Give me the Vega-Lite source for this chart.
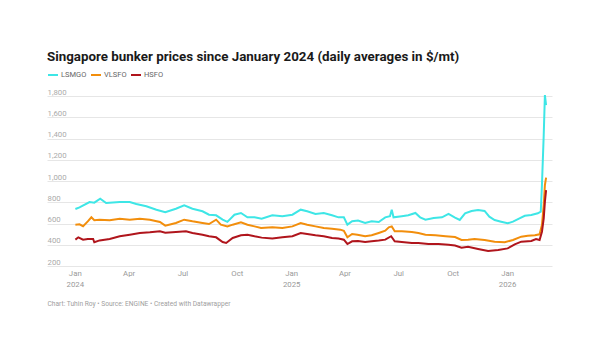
{
  "$schema": "https://vega.github.io/schema/vega-lite/v6.json",
  "width": 505,
  "height": 170,
  "autosize": {"type": "none"},
  "padding": {"left": 47, "top": 96, "right": 48, "bottom": 90},
  "background": "white",
  "config": {"font": "Roboto", "view": {"stroke": null}},
  "title": {
    "text": "Singapore bunker prices since January 2024 (daily averages in $/mt)",
    "anchor": "start",
    "frame": "group",
    "fontSize": 13.35,
    "fontWeight": "bold",
    "color": "#1a1a1a",
    "offset": 6
  },
  "data": {
    "values": [
      {"date": "2024-01-02", "fuel": "LSMGO", "price": 736},
      {"date": "2024-01-09", "fuel": "LSMGO", "price": 752},
      {"date": "2024-01-26", "fuel": "LSMGO", "price": 802},
      {"date": "2024-02-03", "fuel": "LSMGO", "price": 796},
      {"date": "2024-02-13", "fuel": "LSMGO", "price": 833},
      {"date": "2024-02-23", "fuel": "LSMGO", "price": 793},
      {"date": "2024-03-17", "fuel": "LSMGO", "price": 802},
      {"date": "2024-04-03", "fuel": "LSMGO", "price": 802},
      {"date": "2024-04-14", "fuel": "LSMGO", "price": 783},
      {"date": "2024-05-01", "fuel": "LSMGO", "price": 762},
      {"date": "2024-05-18", "fuel": "LSMGO", "price": 730},
      {"date": "2024-06-02", "fuel": "LSMGO", "price": 707},
      {"date": "2024-06-20", "fuel": "LSMGO", "price": 739},
      {"date": "2024-07-04", "fuel": "LSMGO", "price": 771},
      {"date": "2024-07-18", "fuel": "LSMGO", "price": 739},
      {"date": "2024-08-04", "fuel": "LSMGO", "price": 715},
      {"date": "2024-08-15", "fuel": "LSMGO", "price": 683},
      {"date": "2024-08-27", "fuel": "LSMGO", "price": 677},
      {"date": "2024-09-07", "fuel": "LSMGO", "price": 636},
      {"date": "2024-09-15", "fuel": "LSMGO", "price": 615},
      {"date": "2024-09-27", "fuel": "LSMGO", "price": 683},
      {"date": "2024-10-08", "fuel": "LSMGO", "price": 699},
      {"date": "2024-10-19", "fuel": "LSMGO", "price": 658},
      {"date": "2024-10-31", "fuel": "LSMGO", "price": 658},
      {"date": "2024-11-12", "fuel": "LSMGO", "price": 645},
      {"date": "2024-11-30", "fuel": "LSMGO", "price": 677},
      {"date": "2024-12-17", "fuel": "LSMGO", "price": 668},
      {"date": "2025-01-03", "fuel": "LSMGO", "price": 683},
      {"date": "2025-01-17", "fuel": "LSMGO", "price": 730},
      {"date": "2025-01-28", "fuel": "LSMGO", "price": 715},
      {"date": "2025-02-11", "fuel": "LSMGO", "price": 690},
      {"date": "2025-02-25", "fuel": "LSMGO", "price": 699},
      {"date": "2025-03-11", "fuel": "LSMGO", "price": 677},
      {"date": "2025-03-22", "fuel": "LSMGO", "price": 658},
      {"date": "2025-03-31", "fuel": "LSMGO", "price": 658},
      {"date": "2025-04-06", "fuel": "LSMGO", "price": 589},
      {"date": "2025-04-14", "fuel": "LSMGO", "price": 621},
      {"date": "2025-04-24", "fuel": "LSMGO", "price": 628},
      {"date": "2025-05-06", "fuel": "LSMGO", "price": 605},
      {"date": "2025-05-17", "fuel": "LSMGO", "price": 621},
      {"date": "2025-05-29", "fuel": "LSMGO", "price": 614},
      {"date": "2025-06-09", "fuel": "LSMGO", "price": 658},
      {"date": "2025-06-17", "fuel": "LSMGO", "price": 668},
      {"date": "2025-06-20", "fuel": "LSMGO", "price": 730},
      {"date": "2025-06-23", "fuel": "LSMGO", "price": 658},
      {"date": "2025-07-07", "fuel": "LSMGO", "price": 668},
      {"date": "2025-07-18", "fuel": "LSMGO", "price": 677},
      {"date": "2025-07-30", "fuel": "LSMGO", "price": 699},
      {"date": "2025-08-07", "fuel": "LSMGO", "price": 658},
      {"date": "2025-08-16", "fuel": "LSMGO", "price": 636},
      {"date": "2025-08-30", "fuel": "LSMGO", "price": 652},
      {"date": "2025-09-13", "fuel": "LSMGO", "price": 658},
      {"date": "2025-09-24", "fuel": "LSMGO", "price": 690},
      {"date": "2025-10-05", "fuel": "LSMGO", "price": 656},
      {"date": "2025-10-13", "fuel": "LSMGO", "price": 633},
      {"date": "2025-10-22", "fuel": "LSMGO", "price": 696},
      {"date": "2025-11-02", "fuel": "LSMGO", "price": 718},
      {"date": "2025-11-13", "fuel": "LSMGO", "price": 727},
      {"date": "2025-11-24", "fuel": "LSMGO", "price": 718},
      {"date": "2025-12-02", "fuel": "LSMGO", "price": 664},
      {"date": "2025-12-11", "fuel": "LSMGO", "price": 633},
      {"date": "2025-12-22", "fuel": "LSMGO", "price": 617},
      {"date": "2026-01-02", "fuel": "LSMGO", "price": 602},
      {"date": "2026-01-11", "fuel": "LSMGO", "price": 617},
      {"date": "2026-01-22", "fuel": "LSMGO", "price": 649},
      {"date": "2026-01-31", "fuel": "LSMGO", "price": 673},
      {"date": "2026-02-11", "fuel": "LSMGO", "price": 680},
      {"date": "2026-02-22", "fuel": "LSMGO", "price": 696},
      {"date": "2026-02-27", "fuel": "LSMGO", "price": 711},
      {"date": "2026-03-01", "fuel": "LSMGO", "price": 962},
      {"date": "2026-03-04", "fuel": "LSMGO", "price": 1433},
      {"date": "2026-03-06", "fuel": "LSMGO", "price": 1809},
      {"date": "2026-03-08", "fuel": "LSMGO", "price": 1715},

      {"date": "2024-01-02", "fuel": "VLSFO", "price": 589},
      {"date": "2024-01-09", "fuel": "VLSFO", "price": 592},
      {"date": "2024-01-15", "fuel": "VLSFO", "price": 575},
      {"date": "2024-01-23", "fuel": "VLSFO", "price": 620},
      {"date": "2024-01-29", "fuel": "VLSFO", "price": 658},
      {"date": "2024-02-03", "fuel": "VLSFO", "price": 630},
      {"date": "2024-02-12", "fuel": "VLSFO", "price": 636},
      {"date": "2024-02-29", "fuel": "VLSFO", "price": 630},
      {"date": "2024-03-17", "fuel": "VLSFO", "price": 645},
      {"date": "2024-04-03", "fuel": "VLSFO", "price": 636},
      {"date": "2024-04-20", "fuel": "VLSFO", "price": 645},
      {"date": "2024-05-07", "fuel": "VLSFO", "price": 636},
      {"date": "2024-05-24", "fuel": "VLSFO", "price": 614},
      {"date": "2024-06-02", "fuel": "VLSFO", "price": 580},
      {"date": "2024-06-20", "fuel": "VLSFO", "price": 605},
      {"date": "2024-07-04", "fuel": "VLSFO", "price": 636},
      {"date": "2024-07-18", "fuel": "VLSFO", "price": 621},
      {"date": "2024-08-04", "fuel": "VLSFO", "price": 605},
      {"date": "2024-08-15", "fuel": "VLSFO", "price": 595},
      {"date": "2024-08-27", "fuel": "VLSFO", "price": 636},
      {"date": "2024-09-04", "fuel": "VLSFO", "price": 589},
      {"date": "2024-09-15", "fuel": "VLSFO", "price": 573},
      {"date": "2024-09-24", "fuel": "VLSFO", "price": 589},
      {"date": "2024-10-08", "fuel": "VLSFO", "price": 611},
      {"date": "2024-10-19", "fuel": "VLSFO", "price": 589},
      {"date": "2024-10-31", "fuel": "VLSFO", "price": 573},
      {"date": "2024-11-11", "fuel": "VLSFO", "price": 558},
      {"date": "2024-11-30", "fuel": "VLSFO", "price": 564},
      {"date": "2024-12-17", "fuel": "VLSFO", "price": 558},
      {"date": "2025-01-03", "fuel": "VLSFO", "price": 573},
      {"date": "2025-01-17", "fuel": "VLSFO", "price": 605},
      {"date": "2025-01-28", "fuel": "VLSFO", "price": 589},
      {"date": "2025-02-11", "fuel": "VLSFO", "price": 573},
      {"date": "2025-02-25", "fuel": "VLSFO", "price": 558},
      {"date": "2025-03-11", "fuel": "VLSFO", "price": 551},
      {"date": "2025-03-25", "fuel": "VLSFO", "price": 542},
      {"date": "2025-03-31", "fuel": "VLSFO", "price": 532},
      {"date": "2025-04-06", "fuel": "VLSFO", "price": 470},
      {"date": "2025-04-14", "fuel": "VLSFO", "price": 501},
      {"date": "2025-04-23", "fuel": "VLSFO", "price": 495},
      {"date": "2025-05-06", "fuel": "VLSFO", "price": 480},
      {"date": "2025-05-17", "fuel": "VLSFO", "price": 489},
      {"date": "2025-05-29", "fuel": "VLSFO", "price": 511},
      {"date": "2025-06-09", "fuel": "VLSFO", "price": 532},
      {"date": "2025-06-15", "fuel": "VLSFO", "price": 564},
      {"date": "2025-06-20", "fuel": "VLSFO", "price": 573},
      {"date": "2025-06-25", "fuel": "VLSFO", "price": 527},
      {"date": "2025-07-07", "fuel": "VLSFO", "price": 527},
      {"date": "2025-07-24", "fuel": "VLSFO", "price": 520},
      {"date": "2025-08-04", "fuel": "VLSFO", "price": 511},
      {"date": "2025-08-16", "fuel": "VLSFO", "price": 495},
      {"date": "2025-09-02", "fuel": "VLSFO", "price": 489},
      {"date": "2025-09-19", "fuel": "VLSFO", "price": 480},
      {"date": "2025-10-05", "fuel": "VLSFO", "price": 473},
      {"date": "2025-10-16", "fuel": "VLSFO", "price": 445},
      {"date": "2025-10-27", "fuel": "VLSFO", "price": 448},
      {"date": "2025-11-07", "fuel": "VLSFO", "price": 454},
      {"date": "2025-11-24", "fuel": "VLSFO", "price": 445},
      {"date": "2025-12-11", "fuel": "VLSFO", "price": 429},
      {"date": "2025-12-28", "fuel": "VLSFO", "price": 423},
      {"date": "2026-01-11", "fuel": "VLSFO", "price": 445},
      {"date": "2026-01-25", "fuel": "VLSFO", "price": 476},
      {"date": "2026-02-05", "fuel": "VLSFO", "price": 485},
      {"date": "2026-02-17", "fuel": "VLSFO", "price": 490},
      {"date": "2026-02-25", "fuel": "VLSFO", "price": 498},
      {"date": "2026-03-01", "fuel": "VLSFO", "price": 586},
      {"date": "2026-03-04", "fuel": "VLSFO", "price": 774},
      {"date": "2026-03-06", "fuel": "VLSFO", "price": 962},
      {"date": "2026-03-08", "fuel": "VLSFO", "price": 1031},

      {"date": "2024-01-02", "fuel": "HSFO", "price": 448},
      {"date": "2024-01-07", "fuel": "HSFO", "price": 470},
      {"date": "2024-01-15", "fuel": "HSFO", "price": 448},
      {"date": "2024-01-23", "fuel": "HSFO", "price": 455},
      {"date": "2024-02-01", "fuel": "HSFO", "price": 455},
      {"date": "2024-02-03", "fuel": "HSFO", "price": 423},
      {"date": "2024-02-12", "fuel": "HSFO", "price": 441},
      {"date": "2024-02-29", "fuel": "HSFO", "price": 455},
      {"date": "2024-03-17", "fuel": "HSFO", "price": 480},
      {"date": "2024-04-03", "fuel": "HSFO", "price": 495},
      {"date": "2024-04-20", "fuel": "HSFO", "price": 511},
      {"date": "2024-05-07", "fuel": "HSFO", "price": 517},
      {"date": "2024-05-24", "fuel": "HSFO", "price": 527},
      {"date": "2024-06-02", "fuel": "HSFO", "price": 514},
      {"date": "2024-06-20", "fuel": "HSFO", "price": 520},
      {"date": "2024-07-07", "fuel": "HSFO", "price": 527},
      {"date": "2024-07-18", "fuel": "HSFO", "price": 511},
      {"date": "2024-08-04", "fuel": "HSFO", "price": 495},
      {"date": "2024-08-15", "fuel": "HSFO", "price": 480},
      {"date": "2024-08-27", "fuel": "HSFO", "price": 470},
      {"date": "2024-09-07", "fuel": "HSFO", "price": 426},
      {"date": "2024-09-13", "fuel": "HSFO", "price": 417},
      {"date": "2024-09-24", "fuel": "HSFO", "price": 464},
      {"date": "2024-10-08", "fuel": "HSFO", "price": 489},
      {"date": "2024-10-19", "fuel": "HSFO", "price": 495},
      {"date": "2024-10-31", "fuel": "HSFO", "price": 480},
      {"date": "2024-11-12", "fuel": "HSFO", "price": 467},
      {"date": "2024-11-30", "fuel": "HSFO", "price": 458},
      {"date": "2024-12-17", "fuel": "HSFO", "price": 470},
      {"date": "2025-01-03", "fuel": "HSFO", "price": 480},
      {"date": "2025-01-17", "fuel": "HSFO", "price": 511},
      {"date": "2025-01-28", "fuel": "HSFO", "price": 501},
      {"date": "2025-02-11", "fuel": "HSFO", "price": 489},
      {"date": "2025-02-25", "fuel": "HSFO", "price": 480},
      {"date": "2025-03-11", "fuel": "HSFO", "price": 464},
      {"date": "2025-03-22", "fuel": "HSFO", "price": 458},
      {"date": "2025-03-31", "fuel": "HSFO", "price": 448},
      {"date": "2025-04-06", "fuel": "HSFO", "price": 407},
      {"date": "2025-04-14", "fuel": "HSFO", "price": 432},
      {"date": "2025-04-24", "fuel": "HSFO", "price": 436},
      {"date": "2025-05-06", "fuel": "HSFO", "price": 426},
      {"date": "2025-05-17", "fuel": "HSFO", "price": 432},
      {"date": "2025-05-29", "fuel": "HSFO", "price": 439},
      {"date": "2025-06-09", "fuel": "HSFO", "price": 448},
      {"date": "2025-06-19", "fuel": "HSFO", "price": 480},
      {"date": "2025-06-25", "fuel": "HSFO", "price": 432},
      {"date": "2025-07-07", "fuel": "HSFO", "price": 426},
      {"date": "2025-07-24", "fuel": "HSFO", "price": 417},
      {"date": "2025-08-04", "fuel": "HSFO", "price": 417},
      {"date": "2025-08-21", "fuel": "HSFO", "price": 407},
      {"date": "2025-09-07", "fuel": "HSFO", "price": 407},
      {"date": "2025-09-24", "fuel": "HSFO", "price": 400},
      {"date": "2025-10-05", "fuel": "HSFO", "price": 393},
      {"date": "2025-10-16", "fuel": "HSFO", "price": 372},
      {"date": "2025-10-27", "fuel": "HSFO", "price": 381},
      {"date": "2025-11-13", "fuel": "HSFO", "price": 360},
      {"date": "2025-11-30", "fuel": "HSFO", "price": 341},
      {"date": "2025-12-17", "fuel": "HSFO", "price": 350},
      {"date": "2026-01-02", "fuel": "HSFO", "price": 366},
      {"date": "2026-01-14", "fuel": "HSFO", "price": 404},
      {"date": "2026-01-25", "fuel": "HSFO", "price": 429},
      {"date": "2026-02-11", "fuel": "HSFO", "price": 435},
      {"date": "2026-02-19", "fuel": "HSFO", "price": 454},
      {"date": "2026-02-25", "fuel": "HSFO", "price": 445},
      {"date": "2026-03-01", "fuel": "HSFO", "price": 523},
      {"date": "2026-03-04", "fuel": "HSFO", "price": 649},
      {"date": "2026-03-06", "fuel": "HSFO", "price": 805},
      {"date": "2026-03-08", "fuel": "HSFO", "price": 915}
    ]
  },
  "encoding": {
    "x": {
      "field": "date",
      "type": "temporal",
      "scale": {"domain": [{"year": 2023, "month": 11, "date": 15}, {"year": 2026, "month": 3, "date": 18}]},
      "axis": {
        "values": [
          {"year": 2024, "month": 1, "date": 1}, {"year": 2024, "month": 4, "date": 1},
          {"year": 2024, "month": 7, "date": 1}, {"year": 2024, "month": 10, "date": 1},
          {"year": 2025, "month": 1, "date": 1}, {"year": 2025, "month": 4, "date": 1},
          {"year": 2025, "month": 7, "date": 1}, {"year": 2025, "month": 10, "date": 1},
          {"year": 2026, "month": 1, "date": 1}
        ],
        "labelExpr": "month(datum.value) == 0 ? [timeFormat(datum.value, '%b'), timeFormat(datum.value, '%Y')] : timeFormat(datum.value, '%b')",
        "grid": false,
        "domain": false,
        "ticks": false,
        "tickSize": 0,
        "labelPadding": 3,
        "labelFontSize": 7.8,
        "labelColor": "#999999",
        "labelLineHeight": 11,
        "labelBaseline": "top",
        "title": "Chart: Tuhin Roy • Source: ENGINE • Created with Datawrapper",
        "titleX": 0,
        "titleY": 39.5,
        "titleAlign": "left",
        "titleAnchor": "start",
        "titleBaseline": "alphabetic",
        "titleFontSize": 6.65,
        "titleFontWeight": "normal",
        "titleColor": "#a0a0a0"
      }
    },
    "y": {
      "field": "price",
      "type": "quantitative",
      "scale": {"domain": [200, 1800], "nice": false, "zero": false},
      "axis": {
        "values": [200, 400, 600, 800, 1000, 1200, 1400, 1600, 1800],
        "format": ",d",
        "grid": true,
        "gridColor": "#e6e6e6",
        "gridWidth": 1,
        "domain": false,
        "ticks": false,
        "tickSize": 0,
        "labelAlign": "left",
        "labelBaseline": "alphabetic",
        "labelPadding": 0,
        "labelOffset": -2,
        "labelFontSize": 7.8,
        "labelColor": "#aaaaaa",
        "title": null
      }
    },
    "color": {
      "field": "fuel",
      "type": "nominal",
      "scale": {"domain": ["LSMGO", "VLSFO", "HSFO"], "range": ["#3ee6e6", "#f28e0c", "#b0151c"]},
      "legend": {
        "orient": "none",
        "legendX": 0,
        "legendY": -27,
        "direction": "horizontal",
        "title": null,
        "symbolType": "stroke",
        "symbolSize": 100,
        "symbolStrokeWidth": 2,
        "labelFontSize": 7.5,
        "labelColor": "#666666",
        "labelOffset": 2,
        "columnPadding": 0
      }
    }
  },
  "layer": [
    {"mark": {"type": "line", "strokeWidth": 2, "clip": false}},
    {
      "transform": [{"filter": "datum.date == '2026-03-08'"}],
      "mark": {"type": "point", "filled": true, "size": 22, "opacity": 1, "clip": false}
    }
  ]
}
